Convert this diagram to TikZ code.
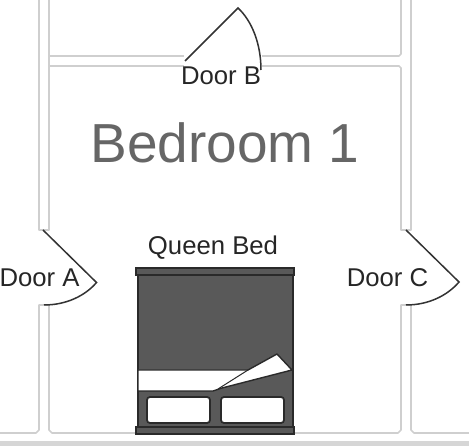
\documentclass[tikz,border=0pt]{standalone}
\usepackage{fontspec}
\setmainfont{Liberation Sans}
\definecolor{wallgray}{HTML}{CFCFCF}
\definecolor{doorgray}{HTML}{333333}
\definecolor{bedfill}{HTML}{595959}
\definecolor{bedline}{HTML}{2A2A2A}
\definecolor{titlegray}{HTML}{666666}
\tikzset{
  wall/.style={draw=wallgray,line width=1.7pt,line join=round},
  floorline/.style={draw=wallgray!85!white,line width=5pt},
  door/.style={draw=doorgray,line width=1.5pt,line join=miter},
  bedpart/.style={draw=bedline,fill=bedfill,line width=2pt,inner sep=0pt,outer sep=0pt,anchor=north west},
  sheet/.style={draw=bedline,fill=white,line width=1.4pt,line join=round},
  pillow/.style={draw=bedline,fill=white,line width=1.8pt,rounded corners=3pt,inner sep=0pt,outer sep=0pt,minimum width=63pt,minimum height=26pt,anchor=north west},
  lbl/.style={text=black!85,font=\fontsize{25.7}{27}\selectfont,inner sep=0pt},
  title/.style={text=titlegray,font=\fontsize{55}{59}\selectfont,inner sep=0pt}
}
\begin{document}
\begin{tikzpicture}[x=1pt,y=-1pt]
\useasboundingbox (0,0) rectangle (469,446);
% walls
\draw[wall] (39,0) -- (39,230) -- (49,230) -- (49,0);
\draw[wall] (0,433) -- (36,433) -- (39,430) -- (39,305) -- (49,305) -- (49,430) -- (52,433) -- (398,433) -- (401,430) -- (401,305) -- (411,305) -- (411,430) -- (414,433) -- (469,433);
\draw[wall] (49,56) -- (184,56);
\draw[wall] (49,66) -- (184,66);
\draw[wall] (262,56) -- (399,56) -- (401,54) -- (401,0);
\draw[wall] (262,66) -- (399,66) -- (401,68) -- (401,230) -- (411,230) -- (411,0);
\draw[floorline] (0,444) -- (469,444);
% doors
\draw[door] (43,230) -- (96.5,282.5) .. controls (85,296) and (66,305) .. (44,305);
\draw[door] (185,61) -- (238,8) .. controls (252,21) and (261,44) .. (261,70);
\draw[door] (406,230) -- (459,282) .. controls (447,296) and (428,305) .. (406,305);
% bed
\node[bedpart,minimum width=155pt,minimum height=160pt] (bedbody) at (138,269) {};
\node[bedpart,minimum width=158pt,minimum height=7pt] (headtop) at (136,268) {};
\node[bedpart,minimum width=158pt,minimum height=7pt] (headbot) at (136,427) {};
\draw[sheet] (138,370) -- (248,370) -- (277,354) -- (292,370) -- (222,388) -- (213,391) -- (138,391) -- cycle;
\draw[bedline,line width=1pt] (248,370) -- (218,389);
\node[pillow] (pillowl) at (147,397) {};
\node[pillow] (pillowr) at (221,397) {};
% labels
\node[title] (room) at (225,143) {Bedroom 1};
\node[lbl] (doora) at (39.5,278) {Door A};
\node[lbl] (doorb) at (221,76) {Door B};
\node[lbl] (doorc) at (387.5,278) {Door C};
\node[lbl] (bedlabel) at (213,248) {Queen Bed};
\end{tikzpicture}
\end{document}
